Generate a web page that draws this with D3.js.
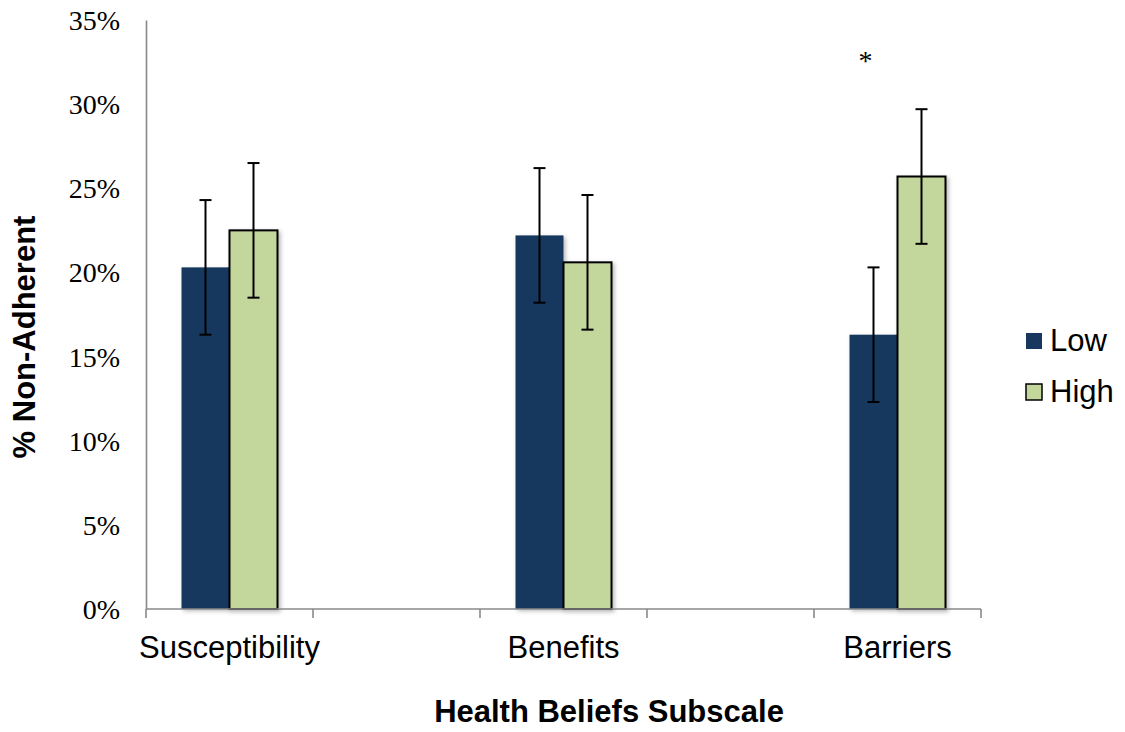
<!DOCTYPE html>
<html>
<head>
<meta charset="utf-8">
<script src="https://cdn.jsdelivr.net/npm/d3@7/dist/d3.min.js"></script>
<style>
  html, body { margin: 0; padding: 0; background: #fff; }
  svg { display: block; }
</style>
</head>
<body>
<svg id="chart" width="1125" height="732"></svg>
<script>
// Subscale categories, placed on every other slot of the axis
const categories = ["Susceptibility", "Benefits", "Barriers"];
const categorySlots = [0, 2, 4];
const slotCount = 5;

// Percent non-adherent by group
const series = ["Low", "High"];
const lowValues = [20.3, 22.2, 16.3];
const highValues = [22.5, 20.6, 25.7];
const lowErrors = [4.0, 4.0, 4.0];
const highErrors = [4.0, 4.0, 4.0];

const yTicks = [0, 5, 10, 15, 20, 25, 30, 35];

// Significance marker above the Barriers group
const markText = "*";
const markCategory = "Barriers";
const markValue = 32.0;

const colors = { Low: "#17375e", High: "#c3d69b" };

const svg = d3.select("#chart");
const plot = { left: 146, right: 981, top: 20, bottom: 609 };

const defs = svg.append("defs");
const shadow = defs.append("filter").attr("id", "barShadow")
  .attr("x", "-20%").attr("y", "-20%").attr("width", "140%").attr("height", "140%");
shadow.append("feDropShadow")
  .attr("dx", 2).attr("dy", 2).attr("stdDeviation", 2)
  .attr("flood-color", "#000").attr("flood-opacity", 0.28);

const x = d3.scaleBand()
  .domain(d3.range(slotCount))
  .range([plot.left, plot.right])
  .padding(0);

const y = d3.scaleLinear()
  .domain([0, 35])
  .range([plot.bottom, plot.top]);

const groupWidth = 96;
const xSub = d3.scaleBand().domain(series).range([0, groupWidth]).padding(0);

const rows = categories.map((c, i) => ({
  category: c,
  slot: categorySlots[i],
  values: [
    { key: "Low", value: lowValues[i], err: lowErrors[i] },
    { key: "High", value: highValues[i], err: highErrors[i] }
  ]
}));

const groupX = d => x(d.slot) + x.bandwidth() / 2 - groupWidth / 2;

// Y axis: line only, serif percent labels
const yAxis = svg.append("g").attr("transform", `translate(${plot.left},0)`)
  .call(d3.axisLeft(y).tickValues(yTicks).tickSize(0).tickPadding(26)
    .tickFormat(d => d + "%"));
yAxis.select(".domain").attr("stroke", "#898989").attr("stroke-width", 1.6);
yAxis.selectAll("text")
  .attr("font-family", "'Liberation Serif', 'Times New Roman', serif")
  .attr("font-size", 28).attr("fill", "#000").attr("dy", "0.34em");

// Bars
const groups = svg.append("g").selectAll("g").data(rows).join("g")
  .attr("transform", d => `translate(${groupX(d)},0)`);

groups.selectAll("rect").data(d => d.values).join("rect")
  .attr("x", d => xSub(d.key))
  .attr("y", d => y(d.value))
  .attr("width", xSub.bandwidth())
  .attr("height", d => y(0) - y(d.value))
  .attr("fill", d => colors[d.key])
  .attr("stroke", d => d.key === "High" ? "#000" : "none")
  .attr("stroke-width", 2)
  .attr("filter", "url(#barShadow)");

// Error bars
const capHalf = 6;
const eb = groups.selectAll("g.err").data(d => d.values).join("g").attr("class", "err")
  .attr("stroke", "#000").attr("stroke-width", 2);
eb.append("line")
  .attr("x1", d => xSub(d.key) + xSub.bandwidth() / 2)
  .attr("x2", d => xSub(d.key) + xSub.bandwidth() / 2)
  .attr("y1", d => y(d.value + d.err))
  .attr("y2", d => y(d.value - d.err));
eb.append("line")
  .attr("x1", d => xSub(d.key) + xSub.bandwidth() / 2 - capHalf)
  .attr("x2", d => xSub(d.key) + xSub.bandwidth() / 2 + capHalf)
  .attr("y1", d => y(d.value + d.err))
  .attr("y2", d => y(d.value + d.err));
eb.append("line")
  .attr("x1", d => xSub(d.key) + xSub.bandwidth() / 2 - capHalf)
  .attr("x2", d => xSub(d.key) + xSub.bandwidth() / 2 + capHalf)
  .attr("y1", d => y(d.value - d.err))
  .attr("y2", d => y(d.value - d.err));

// X axis: ticks between slots, labels under the filled slots
const xAxisG = svg.append("g").attr("transform", `translate(0,${plot.bottom})`);
xAxisG.append("line")
  .attr("x1", plot.left).attr("x2", plot.right)
  .attr("stroke", "#898989").attr("stroke-width", 1.6);
const boundaries = d3.range(slotCount + 1).map(i => i < slotCount ? x(i) : plot.right);
xAxisG.selectAll("line.tick").data(boundaries).join("line").attr("class", "tick")
  .attr("x1", d => d).attr("x2", d => d)
  .attr("y1", 0).attr("y2", 9)
  .attr("stroke", "#898989").attr("stroke-width", 1.6);
xAxisG.selectAll("text").data(rows).join("text")
  .attr("x", d => x(d.slot) + x.bandwidth() / 2)
  .attr("y", 49)
  .attr("text-anchor", "middle")
  .attr("font-family", "'Liberation Sans', Arial, sans-serif")
  .attr("font-size", 31)
  .attr("fill", "#000")
  .text(d => d.category);

// Significance marker
const markRow = rows.find(r => r.category === markCategory);
svg.append("text")
  .attr("x", groupX(markRow) + 16)
  .attr("y", y(markValue))
  .attr("text-anchor", "middle")
  .attr("font-family", "'Liberation Serif', 'Times New Roman', serif")
  .attr("font-size", 28)
  .attr("fill", "#000")
  .text(markText);

// Axis titles
svg.append("text")
  .attr("x", 609).attr("y", 722)
  .attr("text-anchor", "middle")
  .attr("font-family", "'Liberation Sans', Arial, sans-serif")
  .attr("font-weight", "bold").attr("font-size", 31)
  .text("Health Beliefs Subscale");

svg.append("text")
  .attr("transform", "translate(35,337) rotate(-90)")
  .attr("text-anchor", "middle")
  .attr("font-family", "'Liberation Sans', Arial, sans-serif")
  .attr("font-weight", "bold").attr("font-size", 31)
  .text("% Non-Adherent");

// Legend
const legend = svg.append("g").attr("transform", "translate(1026,333)");
const li = legend.selectAll("g").data(series).join("g")
  .attr("transform", (d, i) => `translate(0,${i * 51})`);
li.append("rect")
  .attr("width", 16).attr("height", 16)
  .attr("fill", d => colors[d])
  .attr("stroke", d => d === "High" ? "#000" : "none")
  .attr("stroke-width", 1.5);
li.append("text")
  .attr("x", 24).attr("y", 18)
  .attr("font-family", "'Liberation Sans', Arial, sans-serif")
  .attr("font-size", 31).attr("fill", "#000")
  .text(d => d);
</script>
</body>
</html>
